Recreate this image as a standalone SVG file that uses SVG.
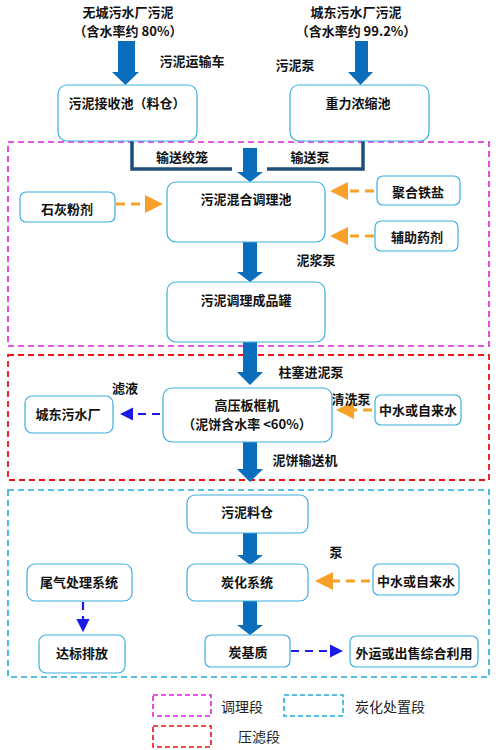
<svg xmlns="http://www.w3.org/2000/svg" width="500" height="750" viewBox="0 0 500 750">
<defs>
<style>
.t{font-family:"Noto Sans CJK SC","Noto Sans",sans-serif;font-size:13px;font-weight:bold;fill:#111;text-anchor:middle}
.lg{font-family:"Noto Sans CJK SC","Noto Sans",sans-serif;font-size:14px;fill:#222}
.box{fill:#fff;stroke:#3BB0E0;stroke-width:1.2}
.blk{fill:#0A6EBD}
.or{stroke:#F7A128;stroke-width:3;stroke-dasharray:9,6;fill:none}
.bl{stroke:#1A1AE6;stroke-width:2.2;stroke-dasharray:8,6;fill:none}
.nv{stroke:#1F4E79;stroke-width:3.5;fill:none}
</style>
<marker id="ho" markerWidth="6" markerHeight="6" refX="5" refY="3" orient="auto" markerUnits="strokeWidth"><path d="M0,0L6,3L0,6z" fill="#F7A128"/></marker>
<marker id="hb" markerWidth="6" markerHeight="6" refX="5" refY="3" orient="auto" markerUnits="strokeWidth"><path d="M0,0L6,3L0,6z" fill="#1A1AE6"/></marker>
</defs>
<rect width="500" height="750" fill="#fff"/>

<g id="sections">
<rect x="8" y="142" width="481" height="204" fill="none" stroke="#E020E0" stroke-width="1.6" stroke-dasharray="6,4"/>
<rect x="8" y="355" width="481" height="125" fill="none" stroke="#EE1111" stroke-width="1.8" stroke-dasharray="6,4"/>
<rect x="8" y="490" width="481" height="187" fill="none" stroke="#22AADD" stroke-width="1.6" stroke-dasharray="6,4"/>
</g>

<g id="sources">
<text class="t" x="128" y="17">无城污水厂污泥</text>
<text class="t" x="128" y="36">（含水率约 80%）</text>
<text class="t" x="356" y="17">城东污水厂污泥</text>
<text class="t" x="356" y="36">（含水率约 99.2%）</text>
</g>

<g id="connectors">
<path class="blk" d="M118,41H135V72H139L125.5,85L112,72H118Z"/>
<path class="blk" d="M355,41H368V72H373L360.5,85L348,72H355Z"/>
<path class="nv" d="M132,141V169H232"/>
<path class="nv" d="M363,141V169H267"/>
<path class="blk" d="M243,148H257V172H263L250,182L237,172H243Z"/>
<path class="blk" d="M243,242H257V272H263L250,282L237,272H243Z"/>
<path class="blk" d="M243,342H257V372H263L250,385L237,372H243Z"/>
<path class="blk" d="M243,442H257V469H263L250,482L237,469H243Z"/>
<path class="blk" d="M243,533H257V555H263L250,565L237,555H243Z"/>
<path class="blk" d="M243,601H257V625H263L250,635L237,625H243Z"/>
<path class="or" d="M116,204H160" marker-end="url(#ho)"/>
<path class="or" d="M374,191H333" marker-end="url(#ho)"/>
<path class="or" d="M374,236H333" marker-end="url(#ho)"/>
<path class="or" d="M372,410H339" marker-end="url(#ho)"/>
<path class="or" d="M370,581H318" marker-end="url(#ho)"/>
<path class="bl" d="M160,414H122" marker-end="url(#hb)"/>
<path class="bl" d="M83,602V630" marker-end="url(#hb)"/>
<path class="bl" d="M291,651H341" marker-end="url(#hb)"/>
<text class="t" x="192" y="66">污泥运输车</text>
<text class="t" x="295" y="70">污泥泵</text>
<text class="t" x="182" y="162">输送绞笼</text>
<text class="t" x="310" y="162">输送泵</text>
<text class="t" x="316" y="265">泥浆泵</text>
<text class="t" x="311" y="377">柱塞进泥泵</text>
<text class="t" x="125" y="393">滤液</text>
<text class="t" x="351" y="404">清洗泵</text>
<text class="t" x="305" y="465">泥饼输送机</text>
<text class="t" x="336" y="557">泵</text>
</g>

<g id="n1"><rect class="box" x="58" y="85" width="139" height="56" rx="9"/><text class="t" x="127" y="108">污泥接收池（料仓）</text></g>
<g id="n2"><rect class="box" x="290" y="85" width="139" height="56" rx="9"/><text class="t" x="358" y="108">重力浓缩池</text></g>
<g id="n3"><rect class="box" x="167" y="182" width="158" height="60" rx="9"/><text class="t" x="246" y="204">污泥混合调理池</text></g>
<g id="n4"><rect class="box" x="20" y="192" width="95" height="30" rx="6"/><text class="t" x="67" y="214">石灰粉剂</text></g>
<g id="n5"><rect class="box" x="377" y="176" width="83" height="29" rx="6"/><text class="t" x="418" y="197">聚合铁盐</text></g>
<g id="n6"><rect class="box" x="375" y="221" width="83" height="30" rx="6"/><text class="t" x="417" y="242">辅助药剂</text></g>
<g id="n7"><rect class="box" x="167" y="282" width="158" height="60" rx="9"/><text class="t" x="246" y="305">污泥调理成品罐</text></g>
<g id="n8"><rect class="box" x="163" y="388" width="169" height="54" rx="9"/><text class="t" x="247" y="410">高压板框机</text><text class="t" x="247" y="429">（泥饼含水率 &lt;60%）</text></g>
<g id="n9"><rect class="box" x="25" y="396" width="88" height="37" rx="7"/><text class="t" x="68" y="419">城东污水厂</text></g>
<g id="n10"><rect class="box" x="375" y="395" width="86" height="30" rx="6"/><text class="t" x="418" y="415">中水或自来水</text></g>
<g id="n11"><rect class="box" x="187" y="495" width="121" height="38" rx="8"/><text class="t" x="247" y="517">污泥料仓</text></g>
<g id="n12"><rect class="box" x="187" y="564" width="121" height="37" rx="8"/><text class="t" x="247" y="587">炭化系统</text></g>
<g id="n13"><rect class="box" x="27" y="564" width="105" height="37" rx="8"/><text class="t" x="79" y="587">尾气处理系统</text></g>
<g id="n14"><rect class="box" x="373" y="564" width="86" height="31" rx="6"/><text class="t" x="416" y="586">中水或自来水</text></g>
<g id="n15"><rect class="box" x="205" y="635" width="85" height="32" rx="6"/><text class="t" x="248" y="657">炭基质</text></g>
<g id="n16"><rect class="box" x="39" y="635" width="86" height="38" rx="7"/><text class="t" x="82" y="658">达标排放</text></g>
<g id="n17"><rect class="box" x="350" y="636" width="128" height="31" rx="6"/><text class="t" x="414" y="658">外运或出售综合利用</text></g>

<g id="legend">
<rect x="153" y="695" width="58" height="21" fill="none" stroke="#E020E0" stroke-width="1.6" stroke-dasharray="5,3"/>
<text class="lg" x="221" y="712">调理段</text>
<rect x="284" y="695" width="59" height="21" fill="none" stroke="#22AADD" stroke-width="1.6" stroke-dasharray="5,3"/>
<text class="lg" x="355" y="712">炭化处置段</text>
<rect x="153" y="726" width="58" height="21" fill="none" stroke="#EE1111" stroke-width="1.6" stroke-dasharray="5,3"/>
<text class="lg" x="238" y="742">压滤段</text>
</g>
</svg>
